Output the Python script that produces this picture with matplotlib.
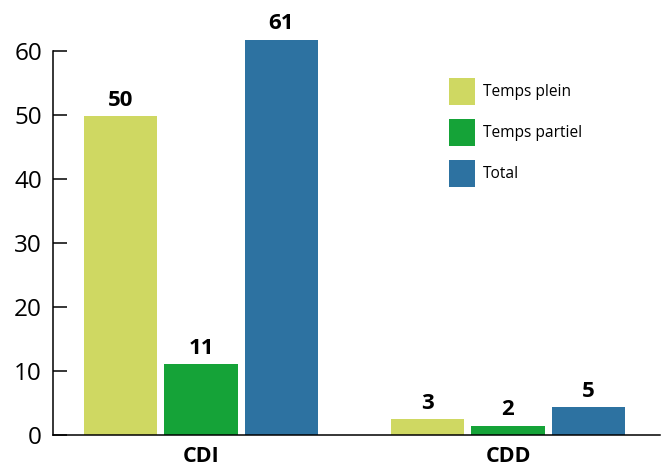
import matplotlib.pyplot as plt
import numpy as np

plt.rcParams['font.family'] = ['Open Sans', 'DejaVu Sans']

# data
categories = ['CDI', 'CDD']
series = ['Temps plein', 'Temps partiel', 'Total']
temps_plein = [49.8, 2.5]
temps_partiel = [11.1, 1.5]
total = [61.7, 4.4]
labels_plein = ['50', '3']
labels_partiel = ['11', '2']
labels_total = ['61', '5']
colors = ['#CFD862', '#15A338', '#2D72A1']

fig = plt.figure(figsize=(6.61, 4.72), dpi=100)
ax = fig.add_axes([53 / 661, 1 - 435.3 / 472, 607 / 661, 66 * 6.41 / 472])

x = np.arange(len(categories))
width = 0.238
step = 0.262
values = [temps_plein, temps_partiel, total]
labels = [labels_plein, labels_partiel, labels_total]
for i, (name, vals, labs, col) in enumerate(zip(series, values, labels, colors)):
    pos = x + (i - 1) * step
    bars = ax.bar(pos, vals, width, color=col, label=name)
    for b, lab in zip(bars, labs):
        ax.annotate(lab, (b.get_x() + b.get_width() / 2, b.get_height()),
                    xytext=(0, 4), textcoords='offset points',
                    ha='center', va='bottom', fontsize=16, fontweight='bold')

ax.set_xlim(-0.482, 1.495)
ax.set_ylim(0, 66)
ax.set_yticks([0, 10, 20, 30, 40, 50, 60])
ax.set_xticks(x)
ax.set_xticklabels(categories, fontsize=15.5, fontweight='bold')
ax.tick_params(axis='x', length=0, pad=8)
ax.tick_params(axis='y', direction='in', length=10, width=1.1, labelsize=17.5, pad=8)

for s in ['top', 'right']:
    ax.spines[s].set_visible(False)
ax.spines['left'].set_bounds(0, 60)
ax.spines['left'].set_linewidth(1.1)
ax.spines['bottom'].set_linewidth(1.1)

ax.legend(loc='upper left', bbox_to_anchor=(449 / 661, 1 - 78 / 472),
          bbox_transform=fig.transFigure, frameon=False, fontsize=11.2,
          handlelength=1.66, handleheight=2.25, handletextpad=0.5,
          labelspacing=0.93, borderpad=0, borderaxespad=0)

fig.savefig('out.png', dpi=100)
